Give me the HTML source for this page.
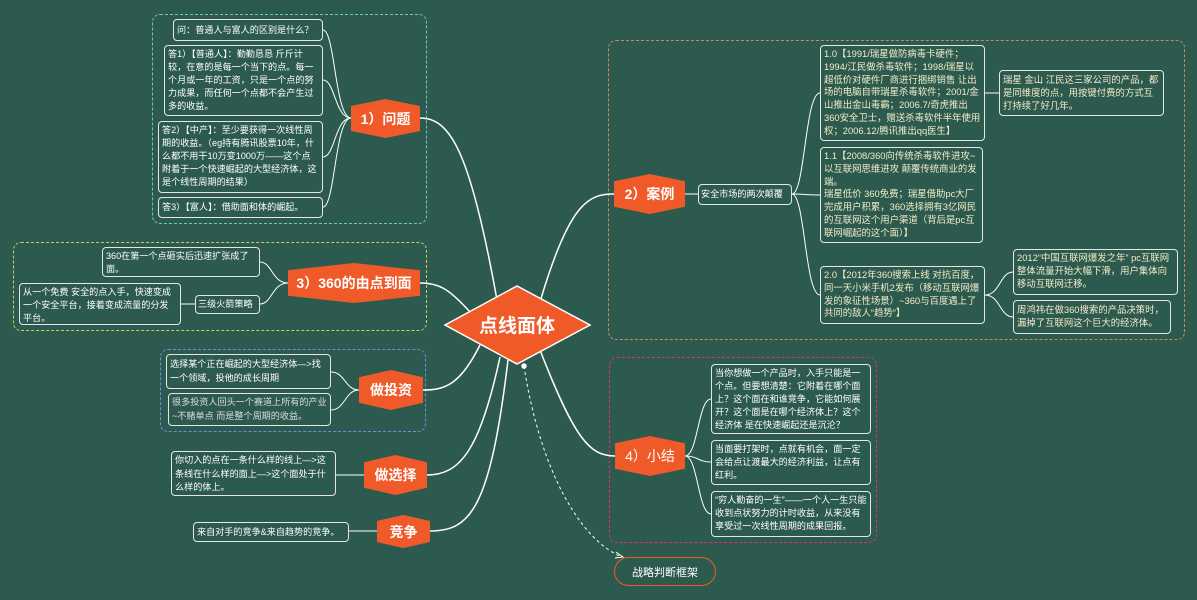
<!DOCTYPE html>
<html><head><meta charset="utf-8"><style>
body{margin:0;width:1197px;height:600px;background:#2d5a4f;position:relative;overflow:hidden;font-family:"Liberation Sans","Noto Sans CJK SC",sans-serif;}
.b{position:absolute;border:1.2px solid #e6e6e6;border-radius:4px;color:#fff;font-size:9.1px;line-height:14.3px;padding:2px 3px;box-sizing:border-box;overflow:hidden;}
.y{color:#f3ecc8}
.d{position:absolute;border:1.5px dashed;border-radius:8px;box-sizing:border-box;}
.h{position:absolute;background:#f05a28;color:#fff;font-weight:bold;display:flex;align-items:center;justify-content:center;clip-path:polygon(0 18%,50% 0,100% 18%,100% 82%,50% 100%,0 82%);font-size:14px;}
</style></head><body>
<div class="d" style="left:152px;top:14px;width:275px;height:210px;border-color:#6fc9b0"></div>
<div class="d" style="left:13px;top:242px;width:414px;height:89px;border-color:#c8cf5a"></div>
<div class="d" style="left:608px;top:40px;width:577px;height:300px;border-color:#d0846a"></div>
<div class="d" style="left:160px;top:349px;width:266px;height:83px;border-color:#6b8fd6"></div>
<div class="d" style="left:609px;top:357px;width:268px;height:186px;border-color:#e0305f"></div>
<svg width="1197" height="600" style="position:absolute;left:0;top:0" fill="none" stroke="#fff" stroke-width="1.5">
<path d="M497,300 C470,150 450,118 420,118"/>
<path d="M470,312 C450,290 440,283 420,283"/>
<path d="M480,345 C460,385 445,390 423,390"/>
<path d="M500,357 C480,450 460,475 427,475"/>
<path d="M508,360 C490,510 470,531 430,531"/>
<path d="M540,302 C570,200 590,194 614,194"/>
<path d="M540,350 C575,440 590,456 615,456"/>
<path d="M524,366 C540,470 580,540 622,557" stroke-dasharray="3,3" stroke-width="1"/>
<path d="M616,552 L623,557 L615,558" stroke-width="1"/>
<g stroke-width="1">
<path d="M351,118 C335,118 335,30 323,30"/><path d="M351,118 C335,118 335,80 323,80"/><path d="M351,118 C335,118 335,157 323,157"/><path d="M351,118 C335,118 335,207 323,207"/>
<path d="M288,283 C272,283 272,262 260,262"/><path d="M288,283 C272,283 272,304 260,304"/><path d="M195,304 L181,304"/>
<path d="M359,390 C345,390 345,372 331,372"/><path d="M359,390 C345,390 345,410 331,410"/>
<path d="M364,475 L336,475"/><path d="M377,531 L349,531"/>
<path d="M685,194 L698,194"/>
<path d="M792,194 C805,194 805,93 820,93"/><path d="M792,194 C805,194 805,195 820,195"/><path d="M792,194 C805,194 805,295 820,295"/>
<path d="M985,93 L999,93"/>
<path d="M985,295 C1000,295 1000,272 1013,272"/><path d="M985,295 C1000,295 1000,317 1013,317"/>
<path d="M685,456 C698,456 698,399 711,399"/><path d="M685,456 C698,456 698,462 711,462"/><path d="M685,456 C698,456 698,514 711,514"/>
</g>
<circle cx="524" cy="366" r="2" fill="#fff"/>
</svg>
<svg width="1197" height="600" style="position:absolute;left:0;top:0">
<polygon points="445,325 517,286 590,325 517,364" fill="#f05a28" stroke="#fff" stroke-width="1.5"/>
<text x="517" y="332" fill="#fff" font-size="19" font-weight="bold" text-anchor="middle" font-family="Liberation Sans,Noto Sans CJK SC,sans-serif">点线面体</text>
</svg>
<div class="b" style="left:173px;top:19px;width:150px;height:22px;line-height:16px">问：普通人与富人的区别是什么？</div>
<div class="b" style="left:164px;top:45px;width:159px;height:71px;line-height:12.9px">答1）【普通人】：勤勤恳恳 斤斤计较，在意的是每一个当下的点。每一个月或一年的工资，只是一个点的努力成果，而任何一个点都不会产生过多的收益。</div>
<div class="b" style="left:158px;top:121px;width:165px;height:72px;line-height:12.9px">答2）【中产】：至少要获得一次线性周期的收益。（eg持有腾讯股票10年，什么都不用干10万变1000万——这个点附着于一个快速崛起的大型经济体，这是个线性周期的结果）</div>
<div class="b" style="left:158px;top:197px;width:165px;height:21px;line-height:15px">答3）【富人】：借助面和体的崛起。</div>
<div class="h" style="left:351px;top:99px;width:69px;height:39px">1）问题</div>
<div class="b" style="left:102px;top:247px;width:158px;height:30px;line-height:12.5px">360在第一个点砸实后迅速扩张成了面。</div>
<div class="b" style="left:19px;top:283px;width:162px;height:42px;line-height:12.8px">从一个免费 安全的点入手，快速变成一个安全平台，接着变成流量的分发平台。</div>
<div class="b" style="left:195px;top:295px;width:65px;height:19px;line-height:13px;padding:2px 2px">三级火箭策略</div>
<div class="h" style="left:288px;top:263px;width:132px;height:40px">3）360的由点到面</div>
<div class="b" style="left:166px;top:354px;width:165px;height:35px;line-height:14px">选择某个正在崛起的大型经济体—>找一个领域，投他的成长周期</div>
<div class="b" style="left:168px;top:393px;width:163px;height:33px;line-height:13.5px;color:#ddd">很多投资人回头一个赛道上所有的产业~不赌单点 而是整个周期的收益。</div>
<div class="h" style="left:359px;top:370px;width:64px;height:40px">做投资</div>
<div class="b" style="left:171px;top:451px;width:165px;height:45px;line-height:13.5px">你切入的点在一条什么样的线上—>这条线在什么样的面上—>这个面处于什么样的体上。</div>
<div class="h" style="left:364px;top:455px;width:63px;height:40px">做选择</div>
<div class="b" style="left:193px;top:522px;width:156px;height:20px;line-height:14px">来自对手的竞争&amp;来自趋势的竞争。</div>
<div class="h" style="left:377px;top:515px;width:53px;height:33px">竞争</div>
<div class="h" style="left:614px;top:174px;width:71px;height:40px">2）案例</div>
<div class="b" style="left:698px;top:184px;width:94px;height:21px;line-height:15px;padding:2px 2px">安全市场的两次颠覆</div>
<div class="b y" style="left:820px;top:45px;width:165px;height:96px;line-height:12.8px;font-size:9.4px">1.0【1991/瑞星做防病毒卡硬件；1994/江民做杀毒软件；1998/瑞星以超低价对硬件厂商进行捆绑销售 让出场的电脑自带瑞星杀毒软件；2001/金山推出金山毒霸；2006.7/奇虎推出360安全卫士，赠送杀毒软件半年使用权；2006.12/腾讯推出qq医生】</div>
<div class="b y" style="left:999px;top:70px;width:165px;height:46px;line-height:13px;font-size:9.4px">瑞星 金山 江民这三家公司的产品，都是同维度的点，用按键付费的方式互打持续了好几年。</div>
<div class="b y" style="left:820px;top:147px;width:163px;height:96px;line-height:12.8px;font-size:9.4px">1.1【2008/360向传统杀毒软件进攻~以互联网思维进攻 颠覆传统商业的发端。<br>瑞星低价 360免费；瑞星借助pc大厂完成用户积累，360选择拥有3亿网民的互联网这个用户渠道（背后是pc互联网崛起的这个面）】</div>
<div class="b y" style="left:820px;top:266px;width:165px;height:58px;line-height:12.8px;font-size:9.4px">2.0【2012年360搜索上线 对抗百度，同一天小米手机2发布（移动互联网爆发的象征性场景）~360与百度遇上了共同的敌人“趋势”】</div>
<div class="b y" style="left:1013px;top:249px;width:165px;height:46px;line-height:12.8px;font-size:9.4px">2012“中国互联网爆发之年” pc互联网整体流量开始大幅下滑，用户集体向移动互联网迁移。</div>
<div class="b y" style="left:1013px;top:300px;width:158px;height:34px;line-height:13px;font-size:9.4px">周鸿祎在做360搜索的产品决策时，漏掉了互联网这个巨大的经济体。</div>
<div class="h" style="left:615px;top:436px;width:70px;height:40px;font-weight:normal">4）小结</div>
<div class="b" style="left:711px;top:364px;width:160px;height:70px;line-height:13px">当你想做一个产品时，入手只能是一个点。但要想清楚：它附着在哪个面上？这个面在和谁竞争，它能如何展开？这个面是在哪个经济体上？这个经济体 是在快速崛起还是沉沦？</div>
<div class="b" style="left:711px;top:440px;width:160px;height:45px;line-height:13px">当面要打架时，点就有机会，面一定会给点让渡最大的经济利益，让点有红利。</div>
<div class="b" style="left:711px;top:491px;width:160px;height:46px;line-height:13px">“穷人勤奋的一生”——一个人一生只能收到点状努力的计时收益，从来没有享受过一次线性周期的成果回报。</div>
<div style="position:absolute;left:614px;top:557px;width:102px;height:29px;border:1.5px solid #f05a28;border-radius:15px;box-sizing:border-box;color:#fff;font-size:11px;display:flex;align-items:center;justify-content:center">战略判断框架</div>
</body></html>
